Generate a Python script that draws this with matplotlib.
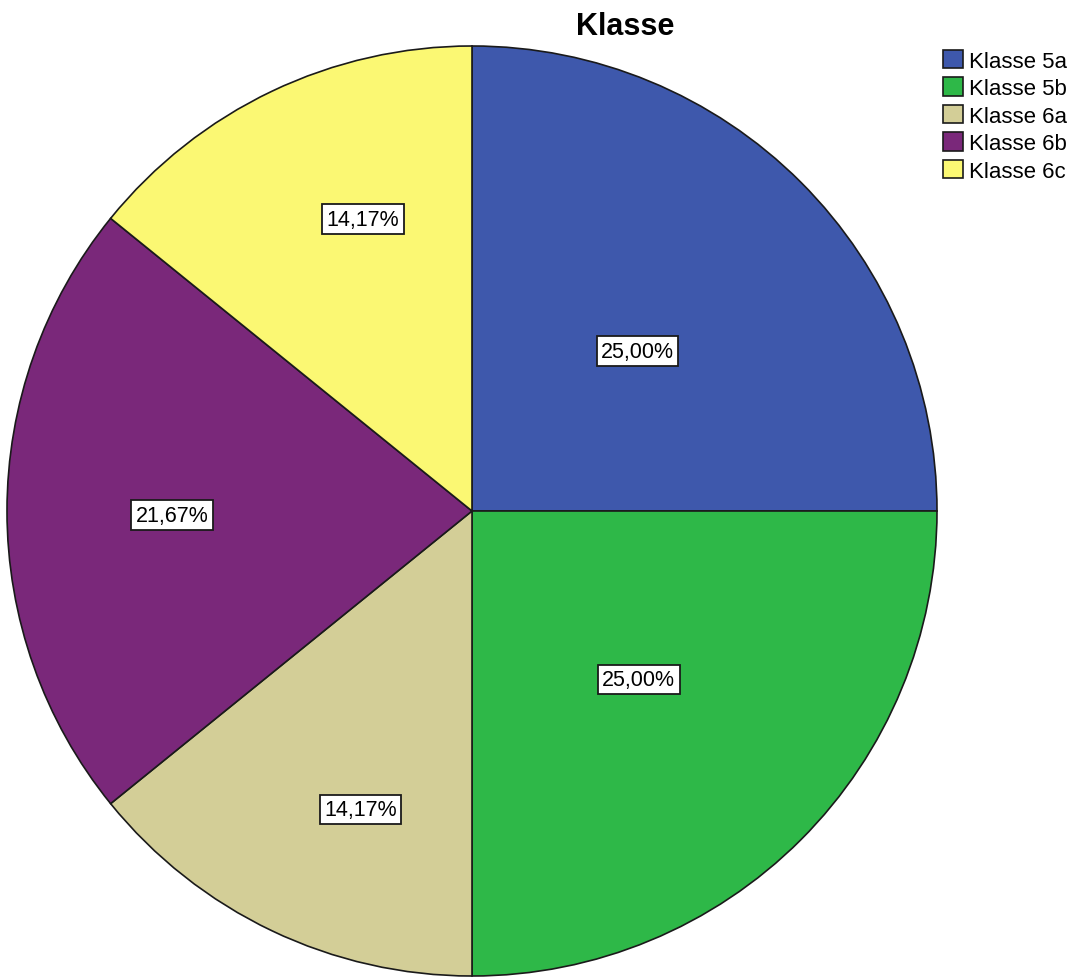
import numpy as np
import matplotlib
matplotlib.use('Agg')
import matplotlib.pyplot as plt
from matplotlib.patches import Patch

plt.rcParams['font.family'] = ['Liberation Sans', 'DejaVu Sans']

categories = ['Klasse 5a', 'Klasse 5b', 'Klasse 6a', 'Klasse 6b', 'Klasse 6c']
counts = [30, 30, 17, 26, 17]
pct_labels = ['25,00%', '25,00%', '14,17%', '21,67%', '14,17%']
colors = ['#3e58ac', '#2eb848', '#d3ce97', '#7a287a', '#fbf873']

# label radius (fraction of pie radius) and angle nudge per slice
label_r = [0.495, 0.51, 0.685, 0.645, 0.67]
label_nudge = [-1, -0.3, 5, 0.8, -5]

W, H = 1073, 979
fig = plt.figure(figsize=(W/100, H/100), dpi=100)

cx, cy, R = 472, 512, 465
ax = fig.add_axes([(cx-R)/W, (H-cy-R)/H, 2*R/W, 2*R/H])

wedges, _ = ax.pie(counts, colors=colors, startangle=90, counterclock=False,
                   radius=1, wedgeprops=dict(edgecolor='#1a1a1a', linewidth=1.2))
ax.set_xlim(-1, 1)
ax.set_ylim(-1, 1)
ax.set_aspect('auto')
ax.axis('off')

for w, lab, r, dn in zip(wedges, pct_labels, label_r, label_nudge):
    mid = np.deg2rad((w.theta1 + w.theta2) / 2 + dn)
    ax.text(r*np.cos(mid), r*np.sin(mid), lab, ha='center', va='center', fontsize=15.5,
            bbox=dict(boxstyle='square,pad=0.2', facecolor='white', edgecolor='#1a1a1a', linewidth=1.3))

fig.text(625/W, 1 - 35/H, 'Klasse', ha='center', va='baseline', fontsize=22, fontweight='bold')

handles = [Patch(facecolor=c, edgecolor='#1a1a1a', linewidth=1.2) for c in colors]
fig.legend(handles, categories, loc='upper left', bbox_to_anchor=(943/W, 1 - 51/H),
           frameon=False, fontsize=16, handlelength=0.9, handleheight=0.9,
           handletextpad=0.25, labelspacing=0.25, borderaxespad=0, borderpad=0)

fig.savefig('out.png', dpi=100)
